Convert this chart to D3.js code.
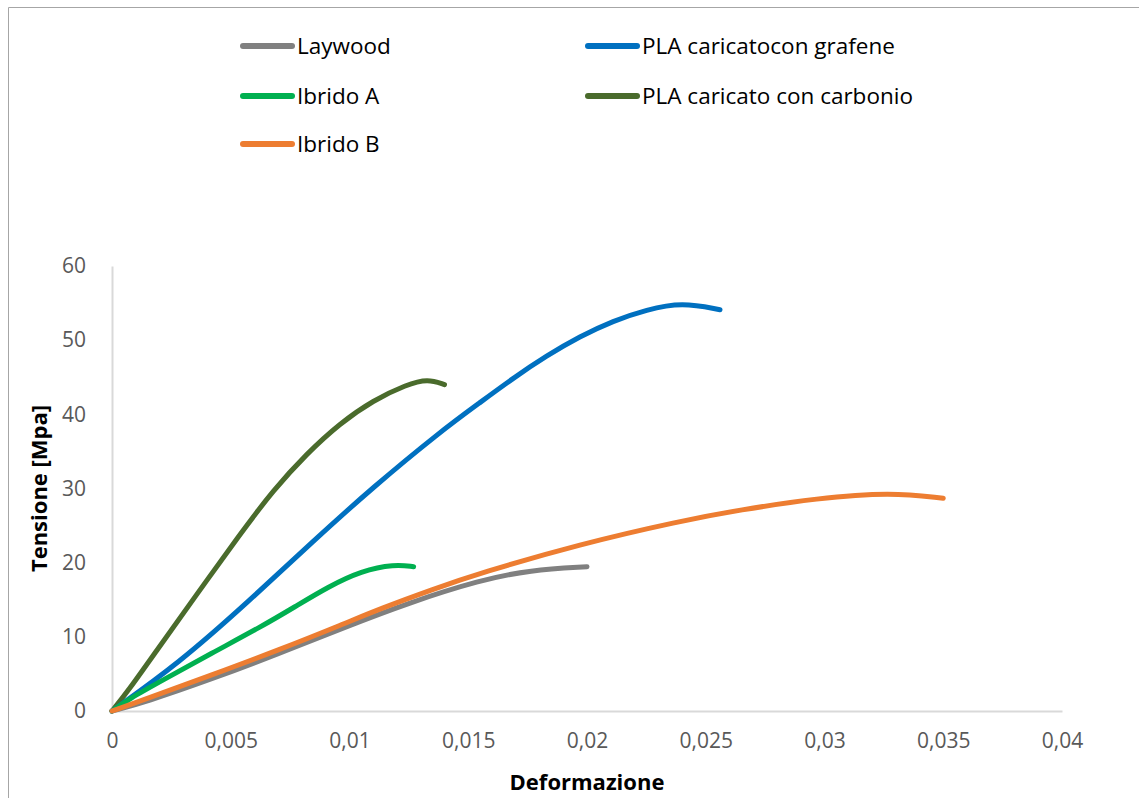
<!DOCTYPE html>
<html>
<head>
<meta charset="utf-8">
<script src="https://cdn.jsdelivr.net/npm/d3@7"></script>
<style>
  html, body { margin: 0; padding: 0; background: #fff; }
  svg { display: block; }
</style>
</head>
<body>
<svg id="chart" width="1139" height="798"></svg>
<script>
// ---- Data (strain, stress MPa) ----
const seriesNames = ["Laywood", "PLA caricatocon grafene", "Ibrido A", "PLA caricato con carbonio", "Ibrido B"];
const seriesColors = ["#808080", "#0070C0", "#00B050", "#4A6B2C", "#ED7D31"];

const laywood = [[0,0],[0.0014,1.2],[0.0042,4.3],[0.007,7.7],[0.0098,11.3],[0.0125,14.6],[0.0155,17.65],[0.0176,19.0],[0.0200,19.45]];
const plaGrafene = [[0,0],[0.0028,6.4],[0.0057,14.6],[0.0085,23.0],[0.011,30.2],[0.0138,37.6],[0.0155,41.6],[0.0169,44.9],[0.0183,47.9],[0.0197,50.5],[0.0211,52.6],[0.0225,54.1],[0.0240,55.1],[0.0256,54.1]];
const ibridoA = [[0,0],[0.0007,1.6],[0.0021,4.1],[0.0042,7.8],[0.0063,11.4],[0.0077,14.05],[0.0091,16.75],[0.0105,18.9],[0.0119,19.8],[0.0127,19.45]];
const plaCarbonio = [[0,0],[0.0007,2.8],[0.0018,7.8],[0.0035,15.4],[0.0054,23.9],[0.0068,29.8],[0.0082,34.7],[0.0096,38.8],[0.011,41.9],[0.0124,44.0],[0.0133,44.8],[0.0140,44.0]];
const ibridoB = [[0,0],[0.0014,1.6],[0.0042,4.85],[0.007,8.2],[0.0098,11.8],[0.0113,13.8],[0.0135,16.4],[0.0155,18.6],[0.0197,22.5],[0.0239,25.6],[0.0264,27.1],[0.0297,28.7],[0.0328,29.5],[0.0350,28.7]];

const xTicks = [0, 0.005, 0.01, 0.015, 0.02, 0.025, 0.03, 0.035, 0.04];
const yTicks = [0, 10, 20, 30, 40, 50, 60];
const xTitle = "Deformazione";
const yTitle = "Tensione [Mpa]";

const seriesData = [laywood, plaGrafene, ibridoA, plaCarbonio, ibridoB];
const drawOrder = [3, 1, 2, 0, 4];

(function () {
  const svg = d3.select("#chart");
  const pLeft = 112, pRight = 1062, pTop = 266, pBottom = 711;
  const x = d3.scaleLinear().domain([0, 0.04]).range([pLeft, pRight]);
  const y = d3.scaleLinear().domain([0, 60]).range([pBottom, pTop]);
  const font = "'Open Sans', 'Noto Sans', sans-serif";

  // outer border (left and top visible)
  svg.append("line").attr("x1", 8.5).attr("y1", 7.5).attr("x2", 1139).attr("y2", 7.5).attr("stroke", "#A6A6A6").attr("stroke-width", 1);
  svg.append("line").attr("x1", 8.5).attr("y1", 7.5).attr("x2", 8.5).attr("y2", 798).attr("stroke", "#A6A6A6").attr("stroke-width", 1);

  const xAxis = d3.axisBottom(x).tickValues(xTicks).tickSize(0).tickPadding(22)
    .tickFormat(d => d === 0 ? "0" : String(+d.toFixed(3)).replace(".", ","));
  const gx = svg.append("g").attr("transform", `translate(0,${pBottom})`).call(xAxis);
  gx.select(".domain").attr("stroke", "#D9D9D9").attr("stroke-width", 2);
  gx.selectAll("text").attr("fill", "#595959").attr("font-family", font).attr("font-size", 21).attr("dy", "0.71em");

  const yAxis = d3.axisLeft(y).tickValues(yTicks).tickSize(0).tickPadding(26).tickFormat(d3.format("d"));
  const gy = svg.append("g").attr("transform", `translate(${pLeft},0)`).call(yAxis);
  gy.select(".domain").attr("stroke", "#D9D9D9").attr("stroke-width", 2);
  gy.selectAll("text").attr("fill", "#595959").attr("font-family", font).attr("font-size", 21);

  const line = d3.line().x(d => x(d[0])).y(d => y(d[1])).curve(d3.curveBasis);
  drawOrder.forEach(i => {
    svg.append("path")
      .datum(seriesData[i])
      .attr("d", line)
      .attr("fill", "none")
      .attr("stroke", seriesColors[i])
      .attr("stroke-width", 5)
      .attr("stroke-linecap", "round")
      .attr("stroke-linejoin", "round");
  });

  svg.append("text").attr("x", 587).attr("y", 790)
    .attr("text-anchor", "middle").attr("font-family", font).attr("font-weight", "bold")
    .attr("font-size", 22).attr("fill", "#000").text(xTitle);
  svg.append("text").attr("transform", `translate(47,${(pTop + pBottom) / 2}) rotate(-90)`)
    .attr("text-anchor", "middle").attr("font-family", font).attr("font-weight", "bold")
    .attr("font-size", 22).attr("fill", "#000").text(yTitle);

  const legendPos = [
    {lx: 240, ly: 46}, {lx: 585, ly: 46},
    {lx: 240, ly: 96}, {lx: 585, ly: 96},
    {lx: 240, ly: 144}
  ];
  seriesNames.forEach((name, i) => {
    const p = legendPos[i];
    const g = svg.append("g");
    g.append("line").attr("x1", p.lx + 3).attr("x2", p.lx + 52).attr("y1", p.ly).attr("y2", p.ly)
      .attr("stroke", seriesColors[i]).attr("stroke-width", 6).attr("stroke-linecap", "round");
    g.append("text").attr("x", p.lx + 57).attr("y", p.ly).attr("dy", "0.35em")
      .attr("font-family", font).attr("font-size", 22.5).attr("fill", "#000").text(name);
  });
})();
</script>
</body>
</html>
